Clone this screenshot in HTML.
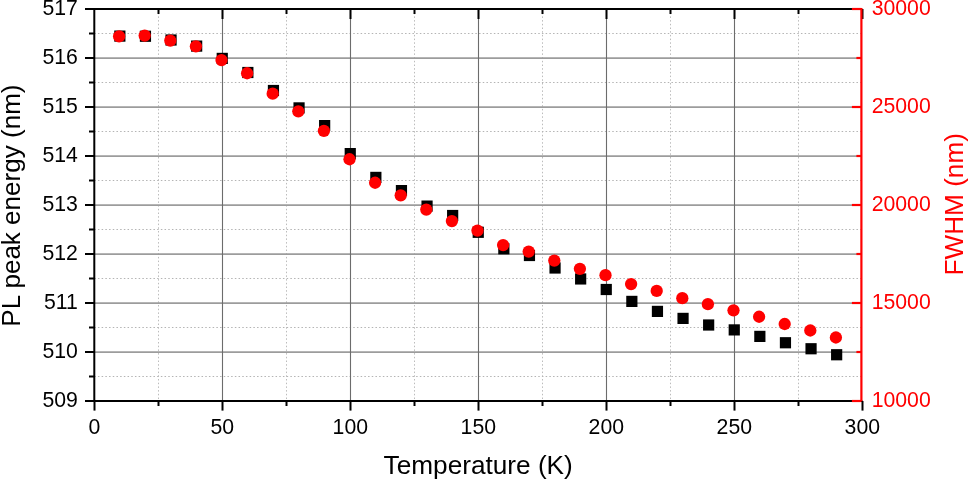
<!DOCTYPE html>
<html><head><meta charset="utf-8"><title>PL peak energy and FWHM vs Temperature</title>
<style>html,body{margin:0;padding:0;background:#fff;}body{width:968px;height:480px;overflow:hidden;}</style></head>
<body>
<svg width="968" height="480" viewBox="0 0 968 480" style="display:block">
<rect width="968" height="480" fill="#fff"/>
<g stroke="#bcbcbc" stroke-width="1" stroke-dasharray="1.5 2.2" fill="none">
<line x1="158.50" y1="9" x2="158.50" y2="401"/>
<line x1="286.50" y1="9" x2="286.50" y2="401"/>
<line x1="414.50" y1="9" x2="414.50" y2="401"/>
<line x1="542.50" y1="9" x2="542.50" y2="401"/>
<line x1="670.50" y1="9" x2="670.50" y2="401"/>
<line x1="798.50" y1="9" x2="798.50" y2="401"/>
</g>
<g stroke="#b4b4b4" stroke-width="1" stroke-dasharray="1.5 2.2" fill="none">
<line x1="94.25" y1="33.50" x2="861.4" y2="33.50"/>
<line x1="94.25" y1="82.50" x2="861.4" y2="82.50"/>
<line x1="94.25" y1="131.50" x2="861.4" y2="131.50"/>
<line x1="94.25" y1="180.50" x2="861.4" y2="180.50"/>
<line x1="94.25" y1="229.50" x2="861.4" y2="229.50"/>
<line x1="94.25" y1="278.50" x2="861.4" y2="278.50"/>
<line x1="94.25" y1="327.50" x2="861.4" y2="327.50"/>
<line x1="94.25" y1="376.50" x2="861.4" y2="376.50"/>
</g>
<g stroke="#9c9c9c" stroke-width="1.9" fill="none">
<line x1="94.25" y1="352.10" x2="861.4" y2="352.10"/>
<line x1="94.25" y1="303.10" x2="861.4" y2="303.10"/>
<line x1="94.25" y1="254.10" x2="861.4" y2="254.10"/>
<line x1="94.25" y1="205.10" x2="861.4" y2="205.10"/>
<line x1="94.25" y1="156.10" x2="861.4" y2="156.10"/>
<line x1="94.25" y1="107.10" x2="861.4" y2="107.10"/>
<line x1="94.25" y1="58.10" x2="861.4" y2="58.10"/>
</g>
<g stroke="#6c6c6c" stroke-width="1.1" fill="none">
<line x1="222.50" y1="9" x2="222.50" y2="401"/>
<line x1="350.50" y1="9" x2="350.50" y2="401"/>
<line x1="478.50" y1="9" x2="478.50" y2="401"/>
<line x1="606.50" y1="9" x2="606.50" y2="401"/>
<line x1="734.50" y1="9" x2="734.50" y2="401"/>
</g>
<g fill="#000">
<rect x="114.25" y="30.50" width="11.2" height="11.2"/>
<rect x="139.85" y="30.65" width="11.2" height="11.2"/>
<rect x="165.45" y="34.40" width="11.2" height="11.2"/>
<rect x="191.05" y="40.50" width="11.2" height="11.2"/>
<rect x="216.65" y="52.80" width="11.2" height="11.2"/>
<rect x="242.25" y="66.90" width="11.2" height="11.2"/>
<rect x="267.85" y="84.90" width="11.2" height="11.2"/>
<rect x="293.45" y="102.30" width="11.2" height="11.2"/>
<rect x="319.05" y="120.00" width="11.2" height="11.2"/>
<rect x="344.65" y="148.00" width="11.2" height="11.2"/>
<rect x="370.25" y="171.80" width="11.2" height="11.2"/>
<rect x="395.85" y="185.00" width="11.2" height="11.2"/>
<rect x="421.45" y="200.50" width="11.2" height="11.2"/>
<rect x="447.05" y="209.90" width="11.2" height="11.2"/>
<rect x="472.65" y="226.70" width="11.2" height="11.2"/>
<rect x="498.25" y="243.20" width="11.2" height="11.2"/>
<rect x="523.85" y="249.90" width="11.2" height="11.2"/>
<rect x="549.45" y="262.40" width="11.2" height="11.2"/>
<rect x="575.05" y="273.35" width="11.2" height="11.2"/>
<rect x="600.65" y="283.90" width="11.2" height="11.2"/>
<rect x="626.25" y="295.80" width="11.2" height="11.2"/>
<rect x="651.85" y="305.80" width="11.2" height="11.2"/>
<rect x="677.45" y="312.80" width="11.2" height="11.2"/>
<rect x="703.05" y="319.40" width="11.2" height="11.2"/>
<rect x="728.65" y="324.30" width="11.2" height="11.2"/>
<rect x="754.25" y="330.80" width="11.2" height="11.2"/>
<rect x="779.85" y="337.15" width="11.2" height="11.2"/>
<rect x="805.45" y="343.15" width="11.2" height="11.2"/>
<rect x="831.05" y="349.15" width="11.2" height="11.2"/>
</g>
<g fill="#f00">
<circle cx="119.10" cy="36.30" r="6.15"/>
<circle cx="144.70" cy="35.60" r="6.15"/>
<circle cx="170.30" cy="40.60" r="6.15"/>
<circle cx="195.90" cy="46.30" r="6.15"/>
<circle cx="221.50" cy="60.10" r="6.15"/>
<circle cx="247.10" cy="73.25" r="6.15"/>
<circle cx="272.70" cy="93.70" r="6.15"/>
<circle cx="298.30" cy="111.30" r="6.15"/>
<circle cx="323.90" cy="130.80" r="6.15"/>
<circle cx="349.50" cy="159.25" r="6.15"/>
<circle cx="375.10" cy="182.75" r="6.15"/>
<circle cx="400.70" cy="195.30" r="6.15"/>
<circle cx="426.30" cy="209.55" r="6.15"/>
<circle cx="451.90" cy="221.10" r="6.15"/>
<circle cx="477.50" cy="230.60" r="6.15"/>
<circle cx="503.10" cy="245.10" r="6.15"/>
<circle cx="528.70" cy="251.60" r="6.15"/>
<circle cx="554.30" cy="260.60" r="6.15"/>
<circle cx="579.90" cy="268.80" r="6.15"/>
<circle cx="605.50" cy="275.20" r="6.15"/>
<circle cx="631.10" cy="284.05" r="6.15"/>
<circle cx="656.70" cy="290.95" r="6.15"/>
<circle cx="682.30" cy="298.20" r="6.15"/>
<circle cx="707.90" cy="304.20" r="6.15"/>
<circle cx="733.50" cy="310.30" r="6.15"/>
<circle cx="759.10" cy="316.75" r="6.15"/>
<circle cx="784.70" cy="324.00" r="6.15"/>
<circle cx="810.30" cy="330.50" r="6.15"/>
<circle cx="835.90" cy="337.50" r="6.15"/>
</g>
<g stroke="#000" stroke-width="2" fill="none">
<line x1="85" y1="9" x2="861.4" y2="9"/>
<line x1="94.3" y1="9" x2="94.3" y2="401"/>
<line x1="85" y1="401" x2="862.4" y2="401"/>
<line x1="85" y1="352" x2="94.25" y2="352"/>
<line x1="85" y1="303" x2="94.25" y2="303"/>
<line x1="85" y1="254" x2="94.25" y2="254"/>
<line x1="85" y1="205" x2="94.25" y2="205"/>
<line x1="85" y1="156" x2="94.25" y2="156"/>
<line x1="85" y1="107" x2="94.25" y2="107"/>
<line x1="85" y1="58" x2="94.25" y2="58"/>
<line x1="89" y1="33.5" x2="94.25" y2="33.5"/>
<line x1="89" y1="82.5" x2="94.25" y2="82.5"/>
<line x1="89" y1="131.5" x2="94.25" y2="131.5"/>
<line x1="89" y1="180.5" x2="94.25" y2="180.5"/>
<line x1="89" y1="229.5" x2="94.25" y2="229.5"/>
<line x1="89" y1="278.5" x2="94.25" y2="278.5"/>
<line x1="89" y1="327.5" x2="94.25" y2="327.5"/>
<line x1="89" y1="376.5" x2="94.25" y2="376.5"/>
<line x1="94.50" y1="401" x2="94.50" y2="410.6"/>
<line x1="222.50" y1="401" x2="222.50" y2="410.6"/>
<line x1="222.50" y1="9" x2="222.50" y2="19"/>
<line x1="350.50" y1="401" x2="350.50" y2="410.6"/>
<line x1="350.50" y1="9" x2="350.50" y2="19"/>
<line x1="478.50" y1="401" x2="478.50" y2="410.6"/>
<line x1="478.50" y1="9" x2="478.50" y2="19"/>
<line x1="606.50" y1="401" x2="606.50" y2="410.6"/>
<line x1="606.50" y1="9" x2="606.50" y2="19"/>
<line x1="734.50" y1="401" x2="734.50" y2="410.6"/>
<line x1="734.50" y1="9" x2="734.50" y2="19"/>
<line x1="862.50" y1="401" x2="862.50" y2="410.6"/>
<line x1="862.50" y1="9" x2="862.50" y2="19"/>
<line x1="158.50" y1="401" x2="158.50" y2="406"/>
<line x1="158.50" y1="9" x2="158.50" y2="14"/>
<line x1="286.50" y1="401" x2="286.50" y2="406"/>
<line x1="286.50" y1="9" x2="286.50" y2="14"/>
<line x1="414.50" y1="401" x2="414.50" y2="406"/>
<line x1="414.50" y1="9" x2="414.50" y2="14"/>
<line x1="542.50" y1="401" x2="542.50" y2="406"/>
<line x1="542.50" y1="9" x2="542.50" y2="14"/>
<line x1="670.50" y1="401" x2="670.50" y2="406"/>
<line x1="670.50" y1="9" x2="670.50" y2="14"/>
<line x1="798.50" y1="401" x2="798.50" y2="406"/>
<line x1="798.50" y1="9" x2="798.50" y2="14"/>
</g>
<g stroke="#f00" stroke-width="2.2" fill="none">
<line x1="861.4" y1="8" x2="861.4" y2="401"/>
<line x1="851.9" y1="9" x2="861.4" y2="9"/>
<line x1="851.9" y1="107" x2="861.4" y2="107"/>
<line x1="851.9" y1="205" x2="861.4" y2="205"/>
<line x1="851.9" y1="303" x2="861.4" y2="303"/>
<line x1="851.9" y1="401" x2="861.4" y2="401"/>
<line x1="856.4" y1="58" x2="861.4" y2="58"/>
<line x1="856.4" y1="156" x2="861.4" y2="156"/>
<line x1="856.4" y1="254" x2="861.4" y2="254"/>
<line x1="856.4" y1="352" x2="861.4" y2="352"/>
</g>
<g font-family="'Liberation Sans', Arial, sans-serif" font-size="22" fill="#000">
<text transform="translate(77.9,407.15) scale(0.965,1)" text-anchor="end">509</text>
<text transform="translate(77.9,358.15) scale(0.965,1)" text-anchor="end">510</text>
<text transform="translate(77.9,309.15) scale(0.965,1)" text-anchor="end">511</text>
<text transform="translate(77.9,260.15) scale(0.965,1)" text-anchor="end">512</text>
<text transform="translate(77.9,211.15) scale(0.965,1)" text-anchor="end">513</text>
<text transform="translate(77.9,162.15) scale(0.965,1)" text-anchor="end">514</text>
<text transform="translate(77.9,113.15) scale(0.965,1)" text-anchor="end">515</text>
<text transform="translate(77.9,64.15) scale(0.965,1)" text-anchor="end">516</text>
<text transform="translate(77.9,15.15) scale(0.965,1)" text-anchor="end">517</text>
<text transform="translate(94.30,434.4) scale(0.965,1)" text-anchor="middle">0</text>
<text transform="translate(222.30,434.4) scale(0.965,1)" text-anchor="middle">50</text>
<text transform="translate(350.30,434.4) scale(0.965,1)" text-anchor="middle">100</text>
<text transform="translate(478.30,434.4) scale(0.965,1)" text-anchor="middle">150</text>
<text transform="translate(606.30,434.4) scale(0.965,1)" text-anchor="middle">200</text>
<text transform="translate(734.30,434.4) scale(0.965,1)" text-anchor="middle">250</text>
<text transform="translate(862.30,434.4) scale(0.965,1)" text-anchor="middle">300</text>
</g>
<g font-family="'Liberation Sans', Arial, sans-serif" font-size="22" fill="#f00">
<text transform="translate(871.7,15.30) scale(0.965,1)">30000</text>
<text transform="translate(871.7,113.30) scale(0.965,1)">25000</text>
<text transform="translate(871.7,211.30) scale(0.965,1)">20000</text>
<text transform="translate(871.7,309.30) scale(0.965,1)">15000</text>
<text transform="translate(871.7,407.30) scale(0.965,1)">10000</text>
</g>
<g font-family="'Liberation Sans', Arial, sans-serif" font-size="26.2">
<text x="478.2" y="473.8" text-anchor="middle" fill="#000">Temperature (K)</text>
<text transform="translate(20.4,205.6) rotate(-90)" text-anchor="middle" font-size="26.05" fill="#000">PL peak energy (nm)</text>
<text transform="translate(963.3,204.3) rotate(-90)" text-anchor="middle" fill="#f00">FWHM (nm)</text>
</g>
</svg>
</body></html>
